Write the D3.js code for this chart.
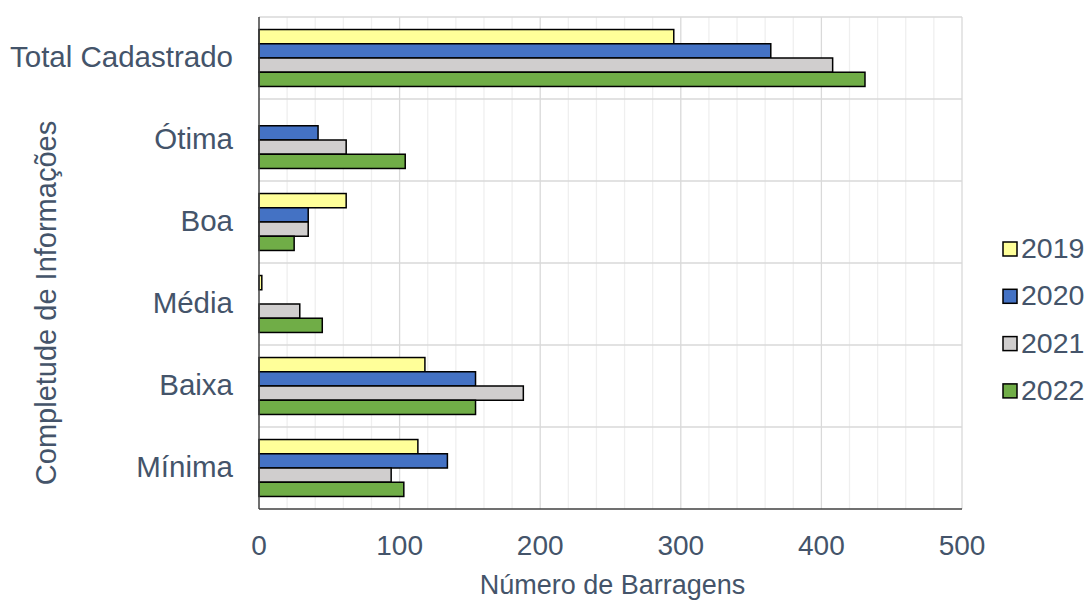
<!DOCTYPE html>
<html><head><meta charset="utf-8">
<script src="https://cdn.jsdelivr.net/npm/d3@7"></script>
<style>body{margin:0;background:#fff;} svg{display:block;} text{font-family:"Liberation Sans",Arial,sans-serif;fill:#44546A;}</style>
</head><body>
<svg id="c" width="1091" height="600"></svg>
<script>
const categories = ["Total Cadastrado","Ótima","Boa","Média","Baixa","Mínima"];
const seriesNames = ["2019","2020","2021","2022"];
const v2019 = [295, 0, 62, 2, 118, 113];
const v2020 = [364, 42, 35, 0, 154, 134];
const v2021 = [408, 62, 35, 29, 188, 94];
const v2022 = [431, 104, 25, 45, 154, 103];
const colors = ["#FFFF99","#4472C4","#D0CECE","#70AD47"];
const xTicks = [0,100,200,300,400,500];

const seriesVals = [v2019, v2020, v2021, v2022];
const svg = d3.select("#c");
const L = 259, R = 962, T = 17, B = 509;
const x = d3.scaleLinear().domain([0,500]).range([L,R]);
const y = d3.scaleBand().domain(categories).range([T,B]).paddingInner(0).paddingOuter(0);
const inner = d3.scaleBand().domain(seriesNames).range([0,y.bandwidth()]).paddingInner(0).paddingOuter(0.88);

// minor grid
svg.append("g").selectAll("line").data(d3.range(0,501,20).filter(d=>d%100!==0)).join("line")
  .attr("x1",d=>x(d)).attr("x2",d=>x(d)).attr("y1",T).attr("y2",B)
  .attr("stroke","#efefef").attr("stroke-width",1.3);
// major grid
svg.append("g").selectAll("line").data(xTicks.slice(1)).join("line")
  .attr("x1",d=>x(d)).attr("x2",d=>x(d)).attr("y1",T).attr("y2",B)
  .attr("stroke","#d9d9d9").attr("stroke-width",1.3);
// horizontal grid
svg.append("g").selectAll("line").data(categories).join("line")
  .attr("x1",L).attr("x2",R).attr("y1",d=>y(d)).attr("y2",d=>y(d))
  .attr("stroke","#d9d9d9").attr("stroke-width",1.3);

// bars
seriesNames.forEach((s,i)=>{
  svg.append("g").selectAll("rect").data(categories.map((c,j)=>({c,v:seriesVals[i][j]})).filter(d=>d.v>0)).join("rect")
    .attr("x",x(0)).attr("y",d=>y(d.c)+inner(s))
    .attr("width",d=>x(d.v)-x(0)).attr("height",inner.bandwidth())
    .attr("fill",colors[i]).attr("stroke","#000").attr("stroke-width",1.5);
});

// axes lines
svg.append("line").attr("x1",L).attr("x2",L).attr("y1",T).attr("y2",B).attr("stroke","#404040").attr("stroke-width",1.5);
svg.append("line").attr("x1",L).attr("x2",R).attr("y1",B).attr("y2",B).attr("stroke","#404040").attr("stroke-width",1.5);

// x tick labels
svg.append("g").selectAll("text").data(xTicks).join("text")
  .attr("x",d=>x(d)).attr("y",555).attr("text-anchor","middle").attr("font-size",28).text(d=>d);
svg.append("text").attr("x",(L+R)/2+2).attr("y",594).attr("text-anchor","middle").attr("font-size",27).text("Número de Barragens");

// category labels
svg.append("g").selectAll("text").data(categories).join("text")
  .attr("x",233).attr("y",d=>y(d)+y.bandwidth()/2+9).attr("text-anchor","end").attr("font-size",29.5).text(d=>d);

// y title
svg.append("text").attr("transform","translate(56,303) rotate(-90)").attr("text-anchor","middle").attr("font-size",29).text("Completude de Informações");

// legend
const lg = svg.append("g");
seriesNames.forEach((s,i)=>{
  const yy = 258 + i*47.3;
  lg.append("rect").attr("x",1003).attr("y",yy-16).attr("width",14).attr("height",14)
    .attr("fill",colors[i]).attr("stroke","#000").attr("stroke-width",1.5);
  lg.append("text").attr("x",1021).attr("y",yy).attr("font-size",28.5).text(s);
});
</script>
</body></html>
